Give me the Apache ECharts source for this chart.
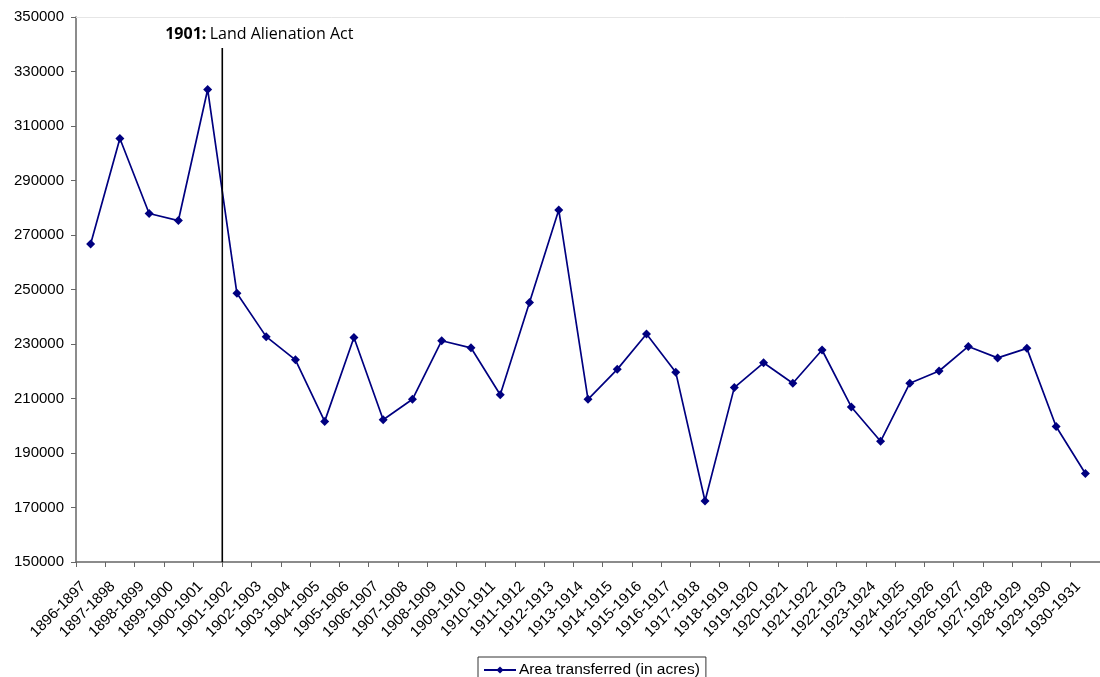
<!DOCTYPE html>
<html>
<head>
<meta charset="utf-8">
<script src="https://cdn.jsdelivr.net/npm/echarts@6/dist/echarts.min.js"></script>
<style>
  html, body { margin: 0; padding: 0; background: #fff; }
  #chart { width: 1100px; height: 677px; }
</style>
</head>
<body>
<div id="chart"></div>
<script>
// Agricultural years (July–June)
const seasons = [
  '1896-1897', '1897-1898', '1898-1899', '1899-1900', '1900-1901',
  '1901-1902', '1902-1903', '1903-1904', '1904-1905', '1905-1906',
  '1906-1907', '1907-1908', '1908-1909', '1909-1910', '1910-1911',
  '1911-1912', '1912-1913', '1913-1914', '1914-1915', '1915-1916',
  '1916-1917', '1917-1918', '1918-1919', '1919-1920', '1920-1921',
  '1921-1922', '1922-1923', '1923-1924', '1924-1925', '1925-1926',
  '1926-1927', '1927-1928', '1928-1929', '1929-1930', '1930-1931'
];

// Area transferred each year, in acres
const areaTransferred = [
  266700, 305400, 277900, 275300, 323400,
  248600, 232700, 224200, 201600, 232400,
  202200, 209700, 231200, 228600, 211400,
  245200, 279200, 209700, 220700, 233700,
  219600, 172400, 214000, 223100, 215600,
  227800, 206900, 194300, 215600, 220100,
  229100, 224900, 228400, 199700, 182500
];

// Y axis scale
const yMin = 150000;
const yMax = 350000;
const yStep = 20000;

// The Act takes effect at the start of the 1901-1902 season
const actSeasonIndex = 5;
const actLabelBold = '1901:';
const actLabelText = 'Land Alienation Act';
const seriesName = 'Area transferred (in acres)';

const FONT = '"Liberation Sans", Arial, sans-serif';
const AXIS_GREY = '#666666';
const NAVY = '#000080';

const chart = echarts.init(document.getElementById('chart'), null, { renderer: 'canvas' });

chart.setOption({
  animation: false,
  backgroundColor: '#ffffff',
  grid: { left: 76, top: 17, width: 1031, height: 545, containLabel: false },
  xAxis: [
    {
      type: 'category',
      data: seasons,
      boundaryGap: true,
      axisLine: { lineStyle: { color: AXIS_GREY, width: 1.5 } },
      axisTick: { show: true, length: 5, inside: false, lineStyle: { color: AXIS_GREY, width: 1 } },
      axisLabel: {
        interval: 0, rotate: 45, margin: 15,
        padding: [0, 10, 0, 0],
        color: '#000', fontFamily: FONT, fontSize: 15
      },
      splitLine: { show: false }
    },
    {
      // continuous helper axis spanning the same bands, used to place the Act marker on a season boundary
      type: 'value',
      min: 0,
      max: seasons.length,
      position: 'top',
      axisLine: { show: true, onZero: false, lineStyle: { color: '#e6e6e6', width: 1 } },
      axisTick: { show: false },
      axisLabel: { show: false },
      splitLine: { show: false }
    }
  ],
  yAxis: {
    type: 'value',
    min: yMin,
    max: yMax,
    interval: yStep,
    axisLine: { show: true, lineStyle: { color: AXIS_GREY, width: 1.5 } },
    axisTick: { show: true, length: 5, lineStyle: { color: AXIS_GREY, width: 1 } },
    axisLabel: {
      margin: 12, color: '#000', fontFamily: FONT, fontSize: 15,
      formatter: v => String(v)
    },
    splitLine: { show: false }
  },
  legend: {
    show: true,
    data: [seriesName],
    left: 478,
    top: 657,
    padding: [5, 6, 4, 5],
    itemWidth: 32,
    itemHeight: 9,
    itemGap: 4,
    borderColor: '#333',
    borderWidth: 1,
    textStyle: { color: '#000', fontFamily: FONT, fontSize: 15.5, padding: [0, 0, 0, -2] }
  },
  series: [
    {
      name: seriesName,
      type: 'line',
      data: areaTransferred,
      color: NAVY,
      symbol: 'diamond',
      symbolSize: 9,
      showAllSymbol: true,
      lineStyle: { color: NAVY, width: 1.7 },
      itemStyle: { color: NAVY },
      emphasis: { disabled: true }
    },
    {
      name: 'act',
      type: 'line',
      xAxisIndex: 1,
      symbol: 'none',
      silent: true,
      data: [[actSeasonIndex, yMin], [actSeasonIndex, 338600]],
      lineStyle: { color: '#000', width: 1.6 },
      markPoint: {
        symbol: 'circle',
        symbolSize: 0,
        silent: true,
        data: [{ coord: [actSeasonIndex, 338600] }],
        label: {
          show: true,
          position: 'top',
          distance: 6,
          offset: [37, 0],
          formatter: '{b|' + actLabelBold + '} {r|' + actLabelText + '}',
          rich: {
            b: { fontFamily: '"Open Sans", sans-serif', fontWeight: 'bold', fontSize: 16, color: '#000' },
            r: { fontFamily: '"Open Sans", sans-serif', fontSize: 16, color: '#000' }
          }
        }
      },
      emphasis: { disabled: true }
    }
  ]
});
</script>
</body>
</html>
